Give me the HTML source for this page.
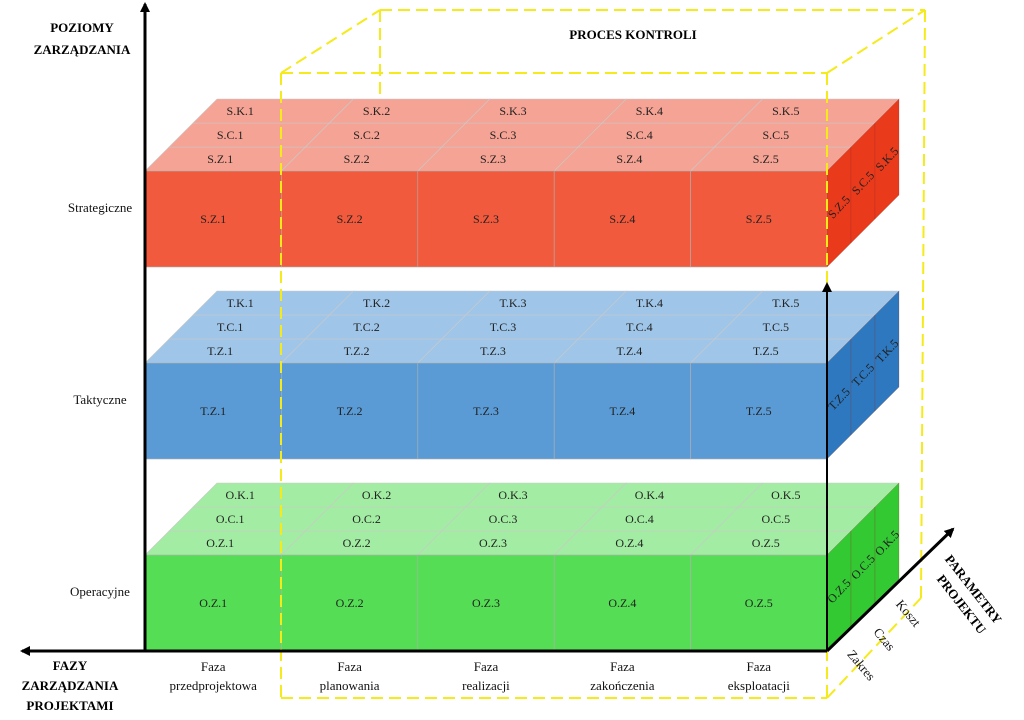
<!DOCTYPE html>
<html><head><meta charset="utf-8"><style>
html,body{margin:0;padding:0;background:#fff;}
svg{display:block;font-family:"Liberation Serif",serif;}
</style></head><body>
<svg id="s" width="1024" height="720" viewBox="0 0 1024 720">
<defs>
<marker id="ar" markerWidth="10" markerHeight="10" refX="8" refY="5" orient="auto" markerUnits="userSpaceOnUse"><path d="M0,0 L10,5 L0,10 z" fill="#000"/></marker>
</defs>
<g id="blocks"></g>
<g id="overlay"></g>
</svg>
<script>
const phases=["1","2","3","4","5"];
const phaseNames=[["Faza","przedprojektowa"],["Faza","planowania"],["Faza","realizacji"],["Faza","zakończenia"],["Faza","eksploatacji"]];
const levels=["Strategiczne","Taktyczne","Operacyjne"];
const levelCodes=["S","T","O"];
const params=["Z","C","K"];
const paramNames=["Zakres","Czas","Koszt"];
const levelTops=[171,363,555];
const colors=[
 {front:"#f15a3c",top:"#f5a394",side:"#ea3a1c"},
 {front:"#5b9bd5",top:"#9fc5e8",side:"#2e78c0"},
 {front:"#55dd55",top:"#a3eca3",side:"#33c933"}];
const NS="http://www.w3.org/2000/svg";
const g=document.getElementById('blocks'), ov=document.getElementById('overlay');
const X0=145,X1=827,FH=96,D=24;
const cw=(X1-X0)/phases.length;
function mk(tag,attrs,parent,txt){const e=document.createElementNS(NS,tag);for(const k in attrs)e.setAttribute(k,attrs[k]);if(txt!==undefined)e.textContent=txt;parent.appendChild(e);return e;}
levels.forEach((lv,li)=>{
 const y0=levelTops[li],c=colors[li],code=levelCodes[li];
 const grp=mk('g',{},g);
 
 
 params.forEach((p,pi)=>{
  const ya=y0-pi*D, yb=y0-(pi+1)*D, oa=pi*D, ob=(pi+1)*D;
  phases.forEach((ph,i)=>{
   const xa=X0+i*cw, xb=X0+(i+1)*cw;
   const poly=mk('polygon',{points:`${xa+oa},${ya} ${xb+oa},${ya} ${xb+ob},${yb} ${xa+ob},${yb}`,fill:c.top,stroke:"#c9c9c9","stroke-width":"0.6"},grp);
   
   
   const t=mk('text',{x:(xa+xb)/2+7+pi*10,y:(ya+yb)/2+4,"text-anchor":"middle","font-size":"12",fill:"#222"},grp,`${code}.${p}.${ph}`);
   
   
  });
 });
 phases.forEach((ph,i)=>{
  const xa=X0+i*cw;
  const r=mk('rect',{x:xa,y:y0,width:cw,height:FH,fill:c.front,stroke:"#b0b0b0","stroke-width":"0.6"},grp);
  
  
  const t=mk('text',{x:xa+cw/2,y:y0+52,"text-anchor":"middle","font-size":"12",fill:"#222"},grp,`${code}.Z.${ph}`);
  
  
 });
 params.forEach((p,pi)=>{
  const oa=pi*D,ob=(pi+1)*D;
  const s=mk('polygon',{points:`${X1+oa},${y0-oa} ${X1+ob},${y0-ob} ${X1+ob},${y0+FH-ob} ${X1+oa},${y0+FH-oa}`,fill:c.side,stroke:"#8a2a1a","stroke-width":"0.4","stroke-opacity":"0.5"},grp);
  
  
  const cx=X1+(oa+ob)/2, cy=y0+FH/2-(oa+ob)/2;
  const t=mk('text',{x:cx,y:cy+4,"text-anchor":"middle","font-size":"12",fill:"#222",transform:`rotate(-47 ${cx} ${cy})`},grp,`${code}.${p}.5`);
  
  
 });
 const lt=mk('text',{x:100,y:y0+41,"text-anchor":"middle","font-size":"13",fill:"#111"},ov,lv);
 
 
});
phaseNames.forEach((pn,i)=>{
 const cx=X0+i*cw+cw/2;
 const t1=mk('text',{x:cx,y:671,"text-anchor":"middle","font-size":"13",fill:"#111"},ov,pn[0]);
 
 
 const t2=mk('text',{x:cx,y:690,"text-anchor":"middle","font-size":"13",fill:"#111"},ov,pn[1]);
 
 
});
const ydash={stroke:"#f5ea1a",fill:"none","stroke-width":"2","stroke-dasharray":"12,6"};
[[281,73,827,73],[281,73,281,698],[827,73,827,698],[281,698,827,698],[380,10,925,10],[380,10,380,99],[281,73,380,10],[827,73,925,10],[925,10,921,598],[827,698,921,598]].forEach(l=>{
 const e=mk('line',Object.assign({x1:l[0],y1:l[1],x2:l[2],y2:l[3]},ydash),ov);
 
 
});
const ax=[[145,651,145,4],[827,651,22,651],[827,651,953,529],[827,651,827,284]];
ax.forEach((l,i)=>{
 const e=mk('line',{x1:l[0],y1:l[1],x2:l[2],y2:l[3],stroke:"#000","stroke-width":i==3?"2":"3","marker-end":"url(#ar)"},ov);
 
 
});
paramNames.forEach((pn,i)=>{
 const cx=[858,881,905][i], cy=[668,642,616][i];
 const t=mk('text',{x:cx,y:cy,"text-anchor":"middle","font-size":"13",fill:"#111",transform:`rotate(50 ${cx} ${cy})`},ov,pn);
 
 
});
function bold(x,y,txt,name,tr){const t=mk('text',{x:x,y:y,"text-anchor":"middle","font-size":"13","font-weight":"bold",fill:"#000"},ov,txt);if(tr)t.setAttribute('transform',tr);}
bold(82,32,"POZIOMY","y-axis-title");
bold(82,54,"ZARZĄDZANIA","y-axis-title");
bold(70,670,"FAZY","x-axis-title");
bold(70,690,"ZARZĄDZANIA","x-axis-title");
bold(70,710,"PROJEKTAMI","x-axis-title");
bold(633,39,"PROCES KONTROLI","control-process-title");
bold(970,592,"PARAMETRY","z-axis-title","rotate(52 970 592)");
bold(958,607,"PROJEKTU","z-axis-title","rotate(52 958 607)");
</script>
</body></html>
